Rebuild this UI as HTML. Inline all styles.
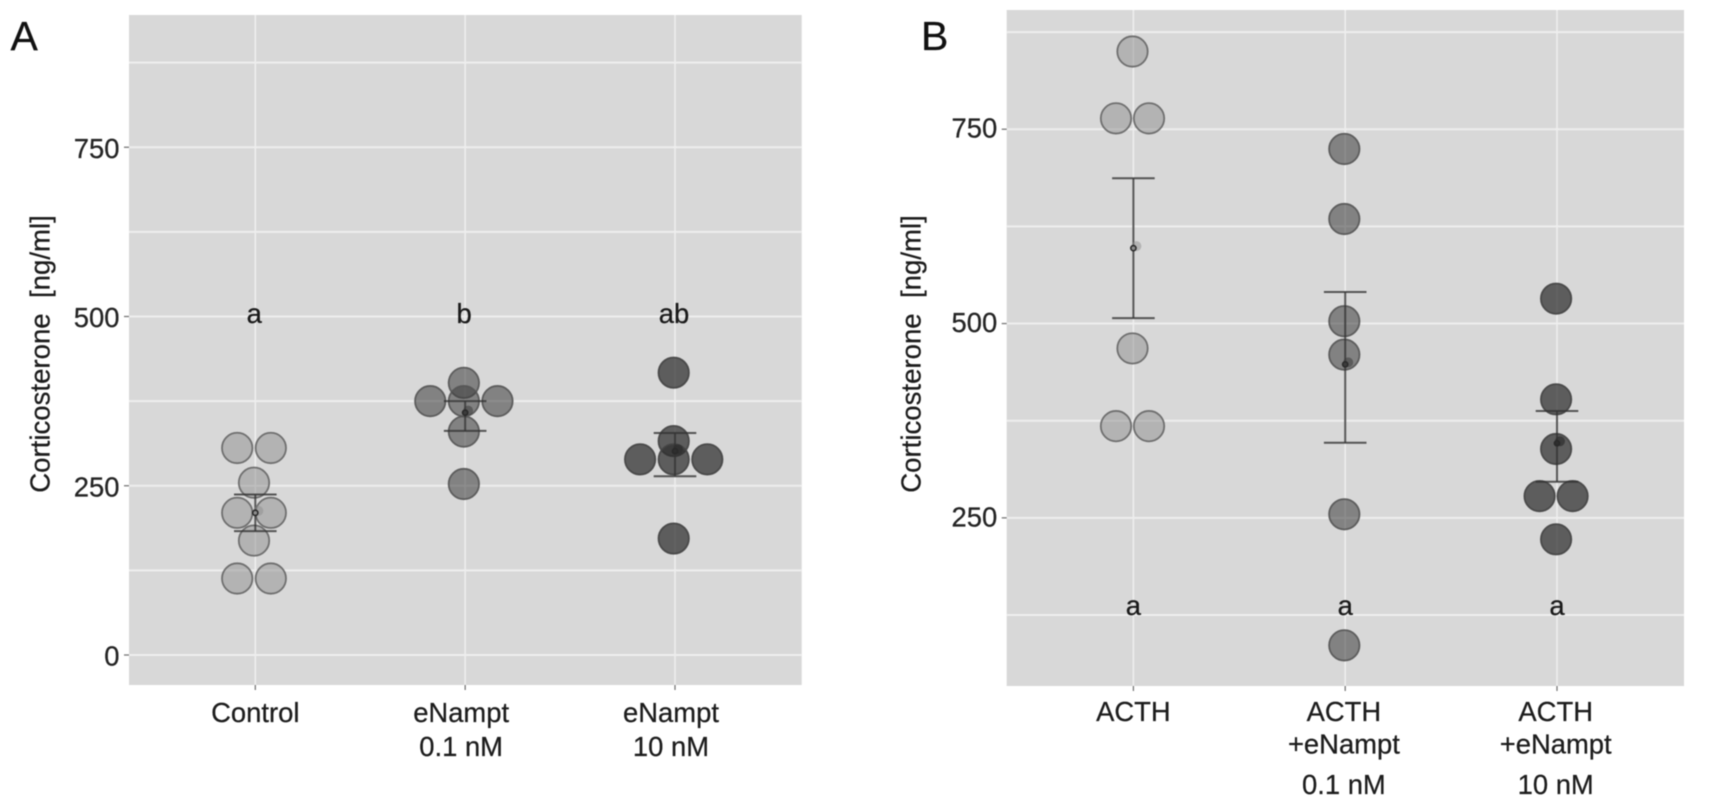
<!DOCTYPE html>
<html lang="en">
<head>
<meta charset="utf-8">
<title>Corticosterone dot plots</title>
<style>
html,body{margin:0;padding:0;background:#fff;width:1713px;height:801px;overflow:hidden}
svg{position:absolute;left:0;top:0;filter:blur(0.55px)}
text{font-family:"Liberation Sans",sans-serif;stroke-width:0.25px}
</style>
</head>
<body>
<svg id="figure" width="1713" height="801" viewBox="0 0 1713 801" xmlns="http://www.w3.org/2000/svg"></svg>
<script>
// ---- Panel A data ----
const panelACategories = [["Control"], ["eNampt", "0.1 nM"], ["eNampt", "10 nM"]];
const panelAControl = [305.8, 305.8, 254.5, 210, 210, 169, 113, 113];
const panelANampt01 = [402, 375, 375, 375, 330, 252.6];
const panelANampt10 = [417, 316, 289, 289, 289, 172];
const panelAMeans = [210, 358, 301];
const panelAUpper = [237, 375, 328];
const panelALower = [183, 331, 264];
const panelASignificance = ["a", "b", "ab"];
const panelAYTicks = [0, 250, 500, 750];

// ---- Panel B data ----
const panelBCategories = [["ACTH"], ["ACTH", "+eNampt", "0.1 nM"], ["ACTH", "+eNampt", "10 nM"]];
const panelBActh = [850, 764, 764, 468, 368, 368];
const panelBNampt01 = [724.6, 634.5, 503, 460, 254.6, 86];
const panelBNampt10 = [532, 402.5, 338.6, 278, 278, 222.4];
const panelBMeans = [597, 447.5, 346];
const panelBUpper = [687, 540.6, 387.5];
const panelBLower = [507, 346.7, 296.5];
const panelBSignificance = ["a", "a", "a"];
const panelBYTicks = [250, 500, 750];

const NS = "http://www.w3.org/2000/svg";
const root = document.getElementById("figure");

function make(parent, tag, attrs, text) {
  const el = document.createElementNS(NS, tag);
  for (const k in attrs) el.setAttribute(k, attrs[k]);
  if (text !== undefined) el.textContent = text;
  parent.appendChild(el);
  return el;
}

const groupStyles = [
  { fill: "#8e8e8e", fillOpacity: 0.5, stroke: "#666666" },
  { fill: "#3c3c3c", fillOpacity: 0.55, stroke: "#555555" },
  { fill: "#2e2e2e", fillOpacity: 0.72, stroke: "#444444" }
];

function drawPanel(p) {
  const g = make(root, "g", {});
  
  

  const yScale = v => p.y0 - p.yUnit * v;
  const xScale = i => p.x0 + p.xStep * i;

  const bg = make(g, "rect", { x: p.left, y: p.top, width: p.right - p.left, height: p.bottom - p.top, fill: "#d8d8d8" });
  
  

  // horizontal grid: major ticks and the midpoints between them
  const step = p.yTicks[1] - p.yTicks[0];
  for (let v = -step / 2; yScale(v) > p.top; v += step / 2) {
    if (v < 0 && yScale(v) > p.bottom) continue;
    const y = yScale(v);
    if (y >= p.bottom) continue;
    const line = make(g, "line", { x1: p.left, x2: p.right, y1: y, y2: y, stroke: "#eeeeee", "stroke-width": 2 });
    
    
  }

  // vertical grid and x ticks
  p.categories.forEach((lines, i) => {
    const x = xScale(i);
    const grid = make(g, "line", { x1: x, x2: x, y1: p.top, y2: p.bottom, stroke: "#eeeeee", "stroke-width": 1.6 });
    
    
    const tick = make(g, "line", { x1: x, x2: x, y1: p.bottom, y2: p.bottom + 5, stroke: "#777", "stroke-width": 1.3 });
    
    
    const shift = lines.length > 1 ? p.labelShift : 0;
    lines.forEach((line, j) => {
      const label = make(g, "text", { x: x + shift, y: p.labelBaselines[j], "text-anchor": "middle", "font-size": 27.4, fill: "#1c1c1c", stroke: "#1c1c1c" }, line);
      
      
    });
  });

  // y ticks
  p.yTicks.forEach(v => {
    const y = yScale(v);
    const tick = make(g, "line", { x1: p.left - 5, x2: p.left, y1: y, y2: y, stroke: "#777", "stroke-width": 1.3 });
    
    
    const label = make(g, "text", { x: p.left - 9.5, y: y + p.tickBaseline, "text-anchor": "end", "font-size": 27.4, fill: "#242424", stroke: "#242424" }, String(v));
    
    
  });

  // y axis title
  const title = make(g, "text", {
    transform: "translate(" + p.titleX + " 354) rotate(-90)",
    "text-anchor": "middle", "font-size": 27.6, fill: "#1c1c1c", stroke: "#1c1c1c", "xml:space": "preserve", style: "white-space:pre"
  }, "Corticosterone  [ng/ml]");
  
  

  // panel letter
  const letter = make(g, "text", { x: p.letterX, y: 50, "font-size": 41, fill: "#111", stroke: "#111" }, p.letter);
  
  

  // data points, centered dot-stack per value
  p.series.forEach((values, i) => {
    const st = groupStyles[i];
    const seen = {};
    values.forEach(v => {
      const n = values.filter(w => w === v).length;
      seen[v] = (seen[v] || 0) + 1;
      const offset = (seen[v] - 1 - (n - 1) / 2) * p.dotGap;
      const c = make(g, "circle", {
        cx: xScale(i) + p.dotShift + offset, cy: yScale(v), r: 15.2,
        fill: st.fill, "fill-opacity": st.fillOpacity,
        stroke: st.stroke, "stroke-width": 1.8, "stroke-opacity": 0.9
      });
      
      
    });
  });

  // mean and error bars
  p.categories.forEach((_, i) => {
    const x = xScale(i);
    const yU = yScale(p.upper[i]), yL = yScale(p.lower[i]), yM = yScale(p.means[i]);
    const st = groupStyles[i];
    const barAttrs = { stroke: "#333333", "stroke-opacity": 0.8, "stroke-width": 2 };
    const stem = make(g, "line", Object.assign({ x1: x, x2: x, y1: yU, y2: yL }, barAttrs));
    
    
    const capU = make(g, "line", Object.assign({ x1: x - 21.3, x2: x + 21.3, y1: yU, y2: yU }, barAttrs));
    
    
    const capL = make(g, "line", Object.assign({ x1: x - 21.3, x2: x + 21.3, y1: yL, y2: yL }, barAttrs));
    
    
    const halo = make(g, "circle", { cx: x + 3, cy: yM - 2, r: 5, fill: st.fill, "fill-opacity": st.fillOpacity });
    
    
    const mean = make(g, "circle", { cx: x, cy: yM, r: 2.6, fill: st.fill, stroke: "#2a2a2a", "stroke-width": 1.6 });
    
    
  });

  // significance letters
  p.significance.forEach((s, i) => {
    const t = make(g, "text", { x: xScale(i) + p.sigShift, y: p.sigY, "text-anchor": "middle", "font-size": 27.4, fill: "#1a1a1a", stroke: "#1a1a1a" }, s);
    
    
  });
}

drawPanel({
  name: "panel-a", letter: "A", letterX: 10.5,
  left: 129, right: 801.7, top: 15, bottom: 685,
  y0: 655, yUnit: 0.677, x0: 255.3, xStep: 209.85, dotGap: 33.6, dotShift: -1.3,
  categories: panelACategories,
  series: [panelAControl, panelANampt01, panelANampt10],
  means: panelAMeans, upper: panelAUpper, lower: panelALower,
  significance: panelASignificance, yTicks: panelAYTicks,
  labelBaselines: [722, 756], labelShift: -4, tickBaseline: 10.6,
  titleX: 49.5, sigY: 323, sigShift: -1
});

drawPanel({
  name: "panel-b", letter: "B", letterX: 921,
  left: 1006.7, right: 1684, top: 10, bottom: 686,
  y0: 712.2, yUnit: 0.7773, x0: 1133.4, xStep: 211.8, dotGap: 33, dotShift: -0.9,
  categories: panelBCategories,
  series: [panelBActh, panelBNampt01, panelBNampt10],
  means: panelBMeans, upper: panelBUpper, lower: panelBLower,
  significance: panelBSignificance, yTicks: panelBYTicks,
  labelBaselines: [721, 753.5, 794], labelShift: -1.3, tickBaseline: 8.4,
  titleX: 920.5, sigY: 615, sigShift: 0
});
</script>
</body>
</html>
